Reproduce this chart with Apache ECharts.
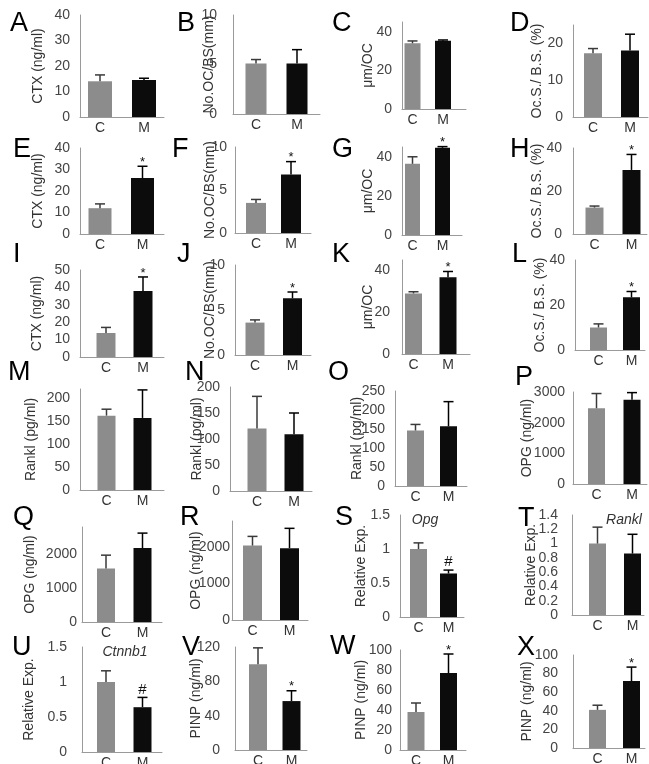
<!DOCTYPE html>
<html><head><meta charset="utf-8">
<script src="https://cdn.jsdelivr.net/npm/echarts@6/dist/echarts.min.js"></script>
<style>html,body{margin:0;padding:0;background:#fff}#c{width:649px;height:764px}</style>
</head><body><div id="c"></div>
<script>
// ---------- data ----------
const categories = ['C', 'M'];
const panelLetters = ['A','B','C','D','E','F','G','H','I','J','K','L','M','N','O','P','Q','R','S','T','U','V','W','X'];
const yNames = ['CTX (ng/ml)','No.OC/BS(mm)','\u03bcm/OC','Oc.S./ B.S. (%)',
  'CTX (ng/ml)','No.OC/BS(mm)','\u03bcm/OC','Oc.S./ B.S. (%)',
  'CTX (ng/ml)','No.OC/BS(mm)','\u03bcm/OC','Oc.S./ B.S. (%)',
  'Rankl (pg/ml)','Rankl (pg/ml)','Rankl (pg/ml)','OPG (ng/ml)',
  'OPG (ng/ml)','OPG (ng/ml)','Relative Exp.','Relative Exp.',
  'Relative Exp.','PINP (ng/ml)','PINP (ng/ml)','PINP (ng/ml)'];
const controlMean  = [14, 5.1, 34, 17.3, 12, 3.5, 36.4, 12.3, 13.8, 3.6, 29, 10, 162, 120, 146, 2470, 1580, 2030, 1.0, 1.0, 1.0, 100, 38, 41];
const controlUpper = [16.5, 5.5, 35.2, 18.6, 14, 3.9, 40, 13, 17, 3.9, 29.8, 11.6, 176, 182, 162, 2950, 1970, 2280, 1.09, 1.23, 1.16, 119, 47, 46];
const modelMean    = [14.5, 5.1, 35.3, 18.1, 26, 6.8, 44.6, 29.8, 38, 6.3, 36.7, 23.4, 157, 109, 157, 2750, 2180, 1960, 0.64, 0.86, 0.64, 57, 77, 72];
const modelUpper   = [15.2, 6.5, 35.7, 22.5, 31.5, 8.3, 45.2, 37, 46, 7, 39.5, 26, 218, 150, 222, 2980, 2620, 2500, 0.69, 1.13, 0.78, 69, 96, 87];
const modelMarks   = ['','','','', '*','*','*','*', '*','*','*','*', '','','','', '','','#','', '#','*','*','*'];
const yMax      = [40, 10, 45, 25, 40, 10, 45, 40, 50, 10, 45, 40, 220, 200, 250, 3000, 2800, 2700, 1.5, 1.4, 1.5, 120, 100, 100];
const yInterval = [10, 5, 20, 10, 10, 5, 20, 20, 10, 5, 20, 20, 50, 50, 50, 1000, 1000, 1000, 0.5, 0.2, 0.5, 40, 20, 20];
const geneTitles = ['','','','','','','','','','','','','','','','','','','Opg','Rankl','Ctnnb1','','',''];

// ---------- layout ----------
const gridLeft   = [80,233,402,573, 80,235,402,573, 80,235,402,575, 80,230,395,573, 82,232,400,572, 82,235,400,573];
const gridRight  = [164,320,466,648, 164,311,462,647, 164,311,470,645, 164,312,467,647, 162,308,464,644, 162,307,466,645];
const gridTop    = [15,15,22,25, 148,147,147,148, 270,265,260,260, 389,387,391,392, 527,521,515,515, 647,647,650,655];
const gridBottom = [117,114,109,117, 234,233,235,234, 357,355,354,350, 490,491,486,484, 622,620,617,615, 752,750,750,748];
const centerC = [100,256,412.5,593, 100,256,412.5,594.5, 106,255,413.5,598.5, 106.5,257,415.5,596.5, 106,252.5,418.5,597.5, 106,258,416,597.5];
const centerM = [144,297,443,630, 142.5,291,442.5,631.5, 143,292.5,448,631.5, 142.5,294,448.5,632, 142.5,289.5,448.5,632.5, 142.5,291.5,448.5,631.5];
const barWidths  = [24,21,16,18, 23,20,15,18, 19,19,17,17, 18,19,17,17, 18,19,17,17, 18,18,17,17];
const labelMargins = [10,16,10,10, 10,8,10,11, 10,10,12,10, 10,10,10,8, 5,2,10,14, 15,15,8,15];
const nameGaps   = [35,17,27,29, 35,18,27,29, 36,18,27,28, 42,26,31,39, 45,29,32,34, 46,32,32,39];
const letterPos  = [[10,24],[177,24],[332,24],[510,24],[13,150],[172,150],[332,150],[510,150],
  [13,255],[177,255],[332,255],[512,255],[8,373],[185,373],[328,373],[515,378],
  [13,518],[180,518],[335,518],[518,519],[12,648],[182,648],[330,647],[517,648]];
const titlePos = {18:[425,520], 19:[624,520], 20:[125,652]};

const FONT = '"Liberation Sans", Arial, Helvetica, sans-serif';
const grids = [], xAxes = [], yAxes = [], series = [], graphics = [];

function errRender(mark) {
  return function (params, api) {
    const i = params.dataIndex;
    const x = api.value(0), lo = api.value(1), hi = api.value(2);
    const p0 = api.coord([x, lo]), p1 = api.coord([x, hi]);
    const col = i === 0 ? '#3a3a3a' : '#000';
    const cw = 5;
    const children = [
      {type: 'line', shape: {x1: p0[0], y1: p0[1], x2: p1[0], y2: p1[1]}, style: {stroke: col, lineWidth: 1.5}},
      {type: 'line', shape: {x1: p1[0] - cw, y1: p1[1], x2: p1[0] + cw, y2: p1[1]}, style: {stroke: col, lineWidth: 1.5}}
    ];
    if (i === 1 && mark) {
      children.push({type: 'text', style: {text: mark, x: p1[0], y: p1[1] - (mark === '#' ? 8 : 4),
        align: 'center', verticalAlign: 'middle', fontSize: mark === '#' ? 15 : 13, fill: '#111', fontFamily: FONT}});
    }
    return {type: 'group', children};
  };
}

for (let i = 0; i < 24; i++) {
  const L = gridLeft[i], R = gridRight[i];
  const s = centerM[i] - centerC[i];
  const xMin = -(centerC[i] - L) / s, xMax = 1 + (R - centerM[i]) / s;
  grids.push({left: L, top: gridTop[i], width: R - L,
    height: gridBottom[i] - gridTop[i], containLabel: false, outerBoundsMode: 'none'});
  const maxIsTick = Math.abs(yMax[i] / yInterval[i] - Math.round(yMax[i] / yInterval[i])) < 1e-6;
  xAxes.push({type: 'value', gridIndex: i, min: xMin, max: xMax,
    axisLine: {show: true, onZero: false, lineStyle: {color: '#9a9a9a', width: 1}}, axisTick: {show: false},
    splitLine: {show: false},
    axisLabel: {customValues: [0, 1], fontSize: 14, color: '#333', margin: 4, fontFamily: FONT,
      formatter: function (v) { const k = Math.round(v); return Math.abs(v - k) < 1e-6 && categories[k] ? categories[k] : ''; }}});
  yAxes.push({type: 'value', gridIndex: i, min: 0, max: yMax[i], interval: yInterval[i],
    axisLine: {show: true, onZero: false, lineStyle: {color: '#9a9a9a', width: 1}}, axisTick: {show: false},
    splitLine: {show: false},
    axisLabel: {fontSize: 14, color: '#444', margin: labelMargins[i], fontFamily: FONT, showMaxLabel: maxIsTick,
      formatter: function (v) { return String(Math.round(v * 1000) / 1000); }},
    name: yNames[i], nameLocation: 'middle', nameGap: nameGaps[i], nameMoveOverlap: false,
    nameTextStyle: {fontSize: 14, color: '#333', fontFamily: FONT}});
  series.push({type: 'bar', xAxisIndex: i, yAxisIndex: i, barWidth: barWidths[i], silent: true,
    data: [{value: [0, controlMean[i]], itemStyle: {color: '#8c8c8c'}}, {value: [1, modelMean[i]], itemStyle: {color: '#0c0c0c'}}]});
  series.push({type: 'custom', xAxisIndex: i, yAxisIndex: i, silent: true, z: 5,
    renderItem: errRender(modelMarks[i]), encode: {x: 0, y: [1, 2]},
    data: [[0, controlMean[i], controlUpper[i]], [1, modelMean[i], modelUpper[i]]]});
  graphics.push({type: 'text', x: letterPos[i][0], y: letterPos[i][1],
    style: {text: panelLetters[i], fontSize: 27, fill: '#000', fontFamily: FONT, verticalAlign: 'middle', align: 'left'}});
  if (geneTitles[i]) {
    graphics.push({type: 'text', x: titlePos[i][0], y: titlePos[i][1],
      style: {text: geneTitles[i], fontSize: 14, fontStyle: 'italic', fill: '#333', fontFamily: FONT, align: 'center', verticalAlign: 'middle'}});
  }
}

const chart = echarts.init(document.getElementById('c'), null, {renderer: 'canvas'});
chart.setOption({animation: false, backgroundColor: '#fff', grid: grids, xAxis: xAxes, yAxis: yAxes, series: series, graphic: graphics});
</script>
</body></html>
